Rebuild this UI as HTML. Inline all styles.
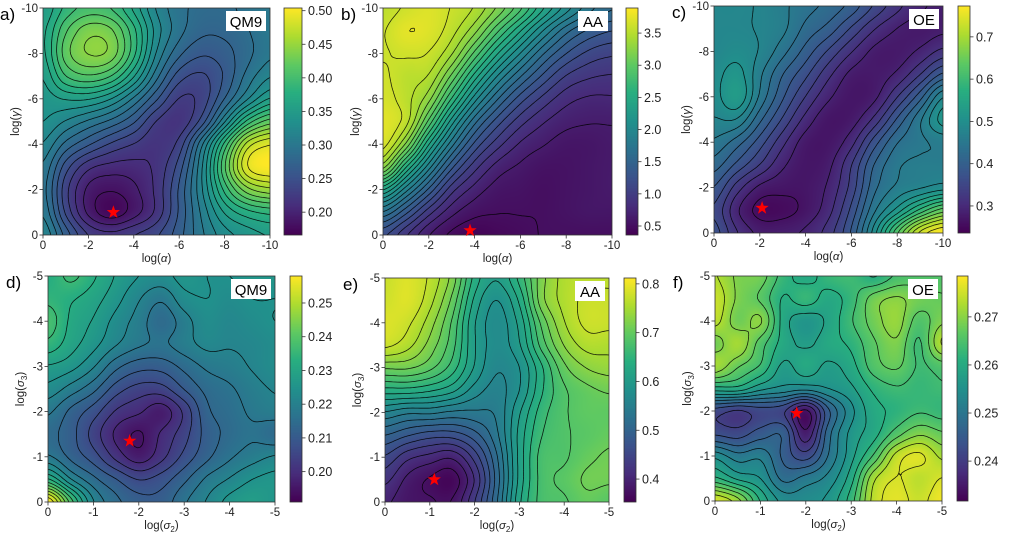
<!DOCTYPE html>
<html><head><meta charset="utf-8"><style>
html,body{margin:0;padding:0;background:#fff;}
#wrap{position:relative;width:1016px;height:535px;overflow:hidden;font-family:"Liberation Sans","DejaVu Sans",sans-serif;}
canvas{position:absolute;}
svg{position:absolute;left:0;top:0;}
</style></head><body>
<div id="wrap">
<svg id="ov" width="1016" height="535"></svg>
</div>
<script>
// ---------- DATA (normalised colormap position, rows top->bottom, cols left->right) ----------
const gridA=[
[.55,.65,.70,.68,.58,.45,.38,.35,.35,.38,.40],
[.58,.72,.80,.78,.65,.48,.38,.33,.33,.36,.40],
[.58,.75,.82,.80,.65,.45,.33,.28,.30,.35,.40],
[.55,.68,.72,.68,.55,.38,.25,.22,.28,.38,.45],
[.52,.55,.55,.50,.40,.28,.18,.20,.32,.45,.55],
[.50,.45,.40,.35,.28,.18,.15,.25,.45,.65,.75],
[.45,.35,.28,.22,.18,.15,.20,.40,.65,.88,.95],
[.40,.25,.15,.12,.12,.15,.25,.45,.72,.95,1.0],
[.38,.20,.08,.05,.08,.15,.28,.45,.65,.80,.85],
[.40,.22,.08,.02,.07,.15,.28,.42,.55,.62,.65],
[.45,.30,.18,.15,.18,.22,.30,.40,.48,.52,.55]];
const gridB=[
[.90,.93,.95,.92,.88,.80,.70,.58,.48,.40,.35],
[.92,.96,.95,.90,.82,.70,.58,.46,.36,.30,.27],
[.92,.93,.92,.85,.72,.58,.46,.35,.27,.22,.20],
[.93,.90,.88,.76,.60,.46,.35,.26,.19,.16,.15],
[.94,.90,.82,.65,.48,.35,.25,.18,.13,.11,.11],
[.96,.90,.72,.52,.36,.25,.17,.12,.09,.08,.08],
[.94,.80,.58,.40,.26,.17,.11,.08,.06,.06,.07],
[.82,.62,.44,.28,.17,.10,.07,.05,.05,.06,.07],
[.58,.44,.30,.17,.10,.06,.05,.04,.05,.06,.07],
[.38,.28,.17,.09,.05,.04,.04,.04,.05,.06,.06],
[.24,.16,.08,.03,.01,.02,.03,.04,.04,.04,.04]];
const gridC=[
[.46,.46,.45,.42,.38,.35,.30,.22,.15,.10,.08],
[.46,.46,.45,.42,.35,.30,.22,.14,.09,.07,.08],
[.46,.48,.45,.38,.30,.22,.14,.08,.07,.10,.15],
[.48,.52,.42,.32,.24,.15,.08,.07,.10,.18,.28],
[.48,.54,.40,.28,.18,.10,.06,.08,.18,.30,.45],
[.45,.45,.33,.22,.12,.06,.07,.15,.28,.40,.52],
[.40,.34,.25,.15,.07,.06,.12,.25,.36,.40,.42],
[.34,.26,.18,.10,.06,.08,.18,.32,.40,.42,.42],
[.27,.16,.08,.06,.06,.10,.20,.35,.42,.45,.48],
[.22,.10,.03,.03,.06,.12,.24,.40,.52,.65,.75],
[.25,.14,.08,.08,.10,.16,.28,.48,.72,.92,1.0]];
const gridD=[
[.62,.68,.62,.55,.50,.48,.52,.50,.50,.52,.52],
[.65,.62,.58,.52,.45,.40,.48,.50,.48,.50,.50],
[.70,.60,.55,.48,.42,.35,.42,.48,.46,.48,.50],
[.65,.58,.52,.45,.40,.38,.42,.46,.45,.46,.48],
[.55,.52,.45,.35,.30,.30,.35,.40,.42,.45,.48],
[.48,.42,.35,.25,.20,.20,.28,.35,.38,.42,.45],
[.40,.32,.25,.16,.12,.08,.18,.32,.36,.40,.42],
[.35,.30,.20,.10,.05,.12,.20,.30,.35,.38,.35],
[.40,.32,.25,.15,.08,.15,.24,.32,.38,.42,.45],
[.62,.45,.35,.28,.22,.25,.32,.40,.45,.50,.52],
[1.0,.70,.45,.35,.30,.30,.38,.45,.52,.55,.52]];
const gridE=[
[.92,.95,.90,.80,.62,.55,.65,.80,.88,.90,.90],
[.93,.95,.88,.76,.58,.50,.60,.80,.88,.92,.92],
[.95,.92,.84,.72,.55,.48,.56,.74,.86,.92,.92],
[.92,.88,.80,.70,.55,.48,.54,.70,.82,.88,.88],
[.78,.78,.74,.66,.54,.46,.50,.63,.76,.82,.84],
[.62,.62,.60,.56,.48,.44,.50,.63,.72,.76,.78],
[.45,.42,.42,.40,.40,.42,.54,.66,.72,.75,.75],
[.32,.28,.25,.25,.30,.40,.56,.68,.72,.74,.76],
[.22,.15,.12,.10,.20,.36,.56,.70,.72,.76,.78],
[.15,.08,.04,.02,.14,.34,.56,.70,.74,.78,.78],
[.10,.06,.05,.05,.18,.36,.58,.70,.72,.76,.74]];
const gridF=[
[.88,.80,.78,.66,.60,.66,.68,.62,.70,.72,.72],
[.92,.80,.74,.62,.66,.60,.66,.78,.82,.78,.76],
[.90,.78,.82,.60,.52,.58,.68,.78,.84,.72,.80],
[.78,.86,.72,.60,.55,.60,.64,.74,.80,.68,.88],
[.86,.76,.68,.55,.60,.55,.60,.72,.76,.68,.72],
[.60,.60,.52,.48,.46,.50,.55,.64,.68,.66,.68],
[.22,.18,.22,.20,.05,.30,.48,.60,.64,.68,.66],
[.24,.22,.28,.30,.08,.35,.52,.60,.72,.80,.76],
[.48,.40,.42,.30,.22,.38,.54,.70,.90,.95,.86],
[.64,.55,.50,.36,.40,.46,.60,.86,.94,.90,.94],
[.94,.84,.62,.48,.48,.52,.66,.90,.96,.92,.98]];
// colorbar ranges and ticks
const cbarRangeA=[0.166,0.504], cbarTicksA=[0.20,0.25,0.30,0.35,0.40,0.45,0.50];
const cbarRangeB=[0.36,3.89], cbarTicksB=[0.5,1.0,1.5,2.0,2.5,3.0,3.5];
const cbarRangeC=[0.236,0.773], cbarTicksC=[0.3,0.4,0.5,0.6,0.7];
const cbarRangeD=[0.191,0.258], cbarTicksD=[0.20,0.21,0.22,0.23,0.24,0.25];
const cbarRangeE=[0.353,0.812], cbarTicksE=[0.4,0.5,0.6,0.7,0.8];
const cbarRangeF=[0.2317,0.2785], cbarTicksF=[0.24,0.25,0.26,0.27];
const tickDigits=[2,1,1,2,1,2];
// axis ticks
const topTicks=[0,-2,-4,-6,-8,-10];
const bottomTicks=[0,-1,-2,-3,-4,-5];
// optimum markers (x, y in data units)
const starA=[-3.1,-1.0], starB=[-3.8,-0.2], starC=[-2.1,-1.1];
const starD=[-1.8,-1.35], starE=[-1.1,-0.5], starF=[-1.8,-1.95];
const titles=["QM9","AA","OE","QM9","AA","OE"];
const letters=["a)","b)","c)","d)","e)","f)"];

// ---------- LAYOUT ----------
const panels=[
 {g:gridA,r:cbarRangeA,t:cbarTicksA,s:starA,ext:10,ticks:topTicks,x:43,y:8,w:227,h:227,cx:284,cw:18,lv:22,xl:"α",yl:"γ",sub:false},
 {g:gridB,r:cbarRangeB,t:cbarTicksB,s:starB,ext:10,ticks:topTicks,x:383,y:8,w:229,h:227,cx:626,cw:12,lv:26,xl:"α",yl:"γ",sub:false},
 {g:gridC,r:cbarRangeC,t:cbarTicksC,s:starC,ext:10,ticks:topTicks,x:714,y:6,w:229,h:227,cx:958,cw:12,lv:22,xl:"α",yl:"γ",sub:false},
 {g:gridD,r:cbarRangeD,t:cbarTicksD,s:starD,ext:5,ticks:bottomTicks,x:48,y:276,w:227,h:226,cx:290,cw:12,lv:18,xl:"2",yl:"3",sub:true},
 {g:gridE,r:cbarRangeE,t:cbarTicksE,s:starE,ext:5,ticks:bottomTicks,x:385,y:278,w:224,h:224,cx:624,cw:12,lv:22,xl:"2",yl:"3",sub:true},
 {g:gridF,r:cbarRangeF,t:cbarTicksF,s:starF,ext:5,ticks:bottomTicks,x:715,y:276,w:227,h:225,cx:957,cw:11,lv:16,xl:"2",yl:"3",sub:true}];
const panelNames=["qm9-alpha-gamma","aa-alpha-gamma","oe-alpha-gamma","qm9-sigma","aa-sigma","oe-sigma"];

const V=[[68,1,84],[71,45,123],[59,82,139],[44,114,142],[33,145,140],[40,174,128],[94,201,98],[173,220,48],[253,231,37]];
function cmap(t){t=Math.max(0,Math.min(1,t));const f=t*8,i=Math.min(7,Math.floor(f)),u=f-i;
 return V[i].map((c,k)=>Math.round(c+(V[i+1][k]-c)*u));}
function cub(p0,p1,p2,p3,u){return p1+0.5*u*(p2-p0+u*(2*p0-5*p1+4*p2-p3+u*(3*(p1-p2)+p3-p0)));}
function sample(g,gx,gy){const n=g.length-1;const ix=Math.min(n-1,Math.floor(gx)),iy=Math.min(n-1,Math.floor(gy));
 const u=gx-ix,v=gy-iy;const R=i=>g[Math.max(0,Math.min(n,i))];const C=(r,j)=>r[Math.max(0,Math.min(n,j))];
 const rows=[-1,0,1,2].map(d=>{const r=R(iy+d);return cub(C(r,ix-1),C(r,ix),C(r,ix+1),C(r,ix+2),u);});
 return cub(rows[0],rows[1],rows[2],rows[3],v);}

const NS="http://www.w3.org/2000/svg";
const ov=document.getElementById('ov');const wrap=document.getElementById('wrap');
function el(tag,attrs,parent){const e=document.createElementNS(NS,tag);for(const k in attrs)e.setAttribute(k,attrs[k]);(parent||ov).appendChild(e);return e;}

panels.forEach((P,pi)=>{
 const g=el('g',{});
 
 
 const cv=document.createElement('canvas');cv.width=P.w;cv.height=P.h;cv.style.left=P.x+'px';cv.style.top=P.y+'px';
 
 
 wrap.insertBefore(cv,ov);
 const ctx=cv.getContext('2d');const im=ctx.createImageData(P.w,P.h);const n=P.g.length-1;
 for(let py=0;py<P.h;py++)for(let px=0;px<P.w;px++){
  const c=cmap(sample(P.g,px/(P.w-1)*n,py/(P.h-1)*n));const o=(py*P.w+px)*4;
  im.data[o]=c[0];im.data[o+1]=c[1];im.data[o+2]=c[2];im.data[o+3]=255;}
 ctx.putImageData(im,0,0);
 const M=90,F=[];for(let j=0;j<M;j++){F.push([]);for(let i=0;i<M;i++)F[j].push(sample(P.g,i/(M-1)*n,j/(M-1)*n));}
 const sx=i=>P.x+i/(M-1)*P.w, sy=j=>P.y+j/(M-1)*P.h;
 let d="";
 for(let L=1;L<P.lv;L++){const lv=L/P.lv;
  for(let j=0;j<M-1;j++)for(let i=0;i<M-1;i++){
   const a=F[j][i],b=F[j][i+1],c=F[j+1][i+1],e=F[j+1][i];const pts=[];
   if((a<lv)!=(b<lv))pts.push([sx(i+(lv-a)/(b-a)),sy(j)]);
   if((b<lv)!=(c<lv))pts.push([sx(i+1),sy(j+(lv-b)/(c-b))]);
   if((e<lv)!=(c<lv))pts.push([sx(i+(lv-e)/(c-e)),sy(j+1)]);
   if((a<lv)!=(e<lv))pts.push([sx(i),sy(j+(lv-a)/(e-a))]);
   for(let k=0;k+1<pts.length;k+=2)d+="M"+pts[k][0].toFixed(1)+" "+pts[k][1].toFixed(1)+"L"+pts[k+1][0].toFixed(1)+" "+pts[k+1][1].toFixed(1);
  }}
 const cp=el('path',{d:d,stroke:'#000','stroke-width':0.8,fill:'none','stroke-opacity':0.85},g);
 
 
 const fr=el('rect',{x:P.x,y:P.y,width:P.w,height:P.h,fill:'none',stroke:'#333','stroke-width':0.8},g);
 
 
 P.ticks.forEach((tv,k)=>{
  const fx=P.x+(-tv/P.ext)*P.w, fy=P.y+P.h-(-tv/P.ext)*P.h;
  el('line',{x1:fx,y1:P.y+P.h,x2:fx,y2:P.y+P.h+3.5,stroke:'#333','stroke-width':0.8},g);
  const tx=el('text',{x:fx,y:P.y+P.h+14,'text-anchor':'middle','font-size':11.5,fill:'#222'},g);tx.textContent=String(tv);
  
  
  el('line',{x1:P.x-3.5,y1:fy,x2:P.x,y2:fy,stroke:'#333','stroke-width':0.8},g);
  const ty=el('text',{x:P.x-5,y:fy+4,'text-anchor':'end','font-size':11.5,fill:'#222'},g);ty.textContent=String(tv);
  
  
 });
 const xt=el('text',{x:P.x+P.w/2,y:P.y+P.h+27,'text-anchor':'middle','font-size':11.5,fill:'#222'},g);
 
 
 const yt=el('text',{x:0,y:0,'text-anchor':'middle','font-size':11.5,fill:'#222',transform:`translate(${P.x-24},${P.y+P.h/2}) rotate(-90)`},g);
 
 
 if(!P.sub){xt.innerHTML='log(<tspan font-style="italic">'+P.xl+'</tspan>)';yt.innerHTML='log(<tspan font-style="italic">'+P.yl+'</tspan>)';}
 else{xt.innerHTML='log(<tspan font-style="italic">σ</tspan><tspan font-size="8" dy="3">'+P.xl+'</tspan><tspan dy="-3">)</tspan>';
      yt.innerHTML='log(<tspan font-style="italic">σ</tspan><tspan font-size="8" dy="3">'+P.yl+'</tspan><tspan dy="-3">)</tspan>';}
 const lt=el('text',{x:P.x-42+(pi==0?-1:0),y:P.y+12,'font-size':17,fill:'#000'},g);lt.textContent=letters[pi];
 
 
 const bw=titles[pi].length*10+10;
 el('rect',{x:P.x+P.w-bw-4,y:P.y+3,width:bw,height:20,fill:'#fff'},g);
 const tl=el('text',{x:P.x+P.w-bw/2-4,y:P.y+19,'text-anchor':'middle','font-size':15,fill:'#000'},g);tl.textContent=titles[pi];
 
 
 const stx=P.x+(-P.s[0]/P.ext)*P.w, sty=P.y+P.h-(-P.s[1]/P.ext)*P.h;let sp="";
 for(let k=0;k<10;k++){const r=k%2?2.8:7,a=-Math.PI/2+k*Math.PI/5;sp+=(stx+r*Math.cos(a)).toFixed(1)+","+(sty+r*Math.sin(a)).toFixed(1)+" ";}
 const st=el('polygon',{points:sp,fill:'#ff0000'},g);
 
 
 const cb=document.createElement('canvas');cb.width=P.cw;cb.height=P.h;cb.style.left=P.cx+'px';cb.style.top=P.y+'px';
 
 
 wrap.insertBefore(cb,ov);const cc=cb.getContext('2d');
 for(let yy=0;yy<P.h;yy++){const c=cmap(1-yy/(P.h-1));cc.fillStyle=`rgb(${c})`;cc.fillRect(0,yy,P.cw,1);}
 el('rect',{x:P.cx,y:P.y,width:P.cw,height:P.h,fill:'none',stroke:'#333','stroke-width':0.8},g);
 P.t.forEach(tv=>{const fy=P.y+P.h-(tv-P.r[0])/(P.r[1]-P.r[0])*P.h;
  el('line',{x1:P.cx+P.cw,y1:fy,x2:P.cx+P.cw+3.5,y2:fy,stroke:'#333','stroke-width':0.8},g);
  const ct=el('text',{x:P.cx+P.cw+6,y:fy+4.5,'font-size':12.5,fill:'#222'},g);ct.textContent=tv.toFixed(tickDigits[pi]);
  
  
 });
});
</script>
</body></html>
